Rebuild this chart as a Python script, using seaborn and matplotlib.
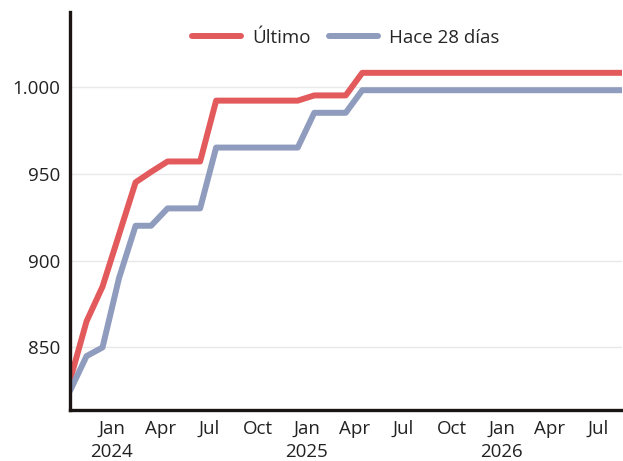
import matplotlib
matplotlib.use("Agg")
import matplotlib.pyplot as plt
from matplotlib.ticker import FuncFormatter
import seaborn as sns
import pandas as pd

dates = list(pd.date_range("2023-10-01", "2026-08-01", freq="MS") + pd.Timedelta(days=14))

ultimo = [831, 865, 885, 915, 945, 951, 957, 957, 957, 992, 992, 992, 992, 992, 992,
          995, 995, 995, 1008, 1008, 1008, 1008, 1008, 1008, 1008, 1008, 1008, 1008,
          1008, 1008, 1008, 1008, 1008, 1008, 1008]
hace28 = [825, 845, 850, 890, 920, 920, 930, 930, 930, 965, 965, 965, 965, 965, 965,
          985, 985, 985, 998, 998, 998, 998, 998, 998, 998, 998, 998, 998,
          998, 998, 998, 998, 998, 998, 998]
series_names = ["Último", "Hace 28 días"]
colors = ["#e35a5c", "#8f9cbd"]

tick_dates = ["2024-01-01", "2024-04-01", "2024-07-01", "2024-10-01",
              "2025-01-01", "2025-04-01", "2025-07-01", "2025-10-01",
              "2026-01-01", "2026-04-01", "2026-07-01"]
tick_labels = ["Jan\n2024", "Apr", "Jul", "Oct", "Jan\n2025", "Apr", "Jul", "Oct",
               "Jan\n2026", "Apr", "Jul"]
y_ticks = [850, 900, 950, 1000]

df = pd.DataFrame({
    "fecha": dates * 2,
    "valor": ultimo + hace28,
    "serie": [series_names[0]] * len(dates) + [series_names[1]] * len(dates),
})

sns.set_theme(style="white")
plt.rcParams["font.family"] = ["Open Sans", "DejaVu Sans"]

fig = plt.figure(figsize=(6.23, 4.61), dpi=100)
ax = fig.add_axes([70 / 623, 51 / 461, 552 / 623, 398 / 461])

sns.lineplot(data=df, x="fecha", y="valor", hue="serie", palette=colors,
             linewidth=4.3, ax=ax, legend=True)

ax.set_xlim(dates[0], dates[-1])
ax.set_ylim(814, 1043)
ax.set_yticks(y_ticks)
ax.yaxis.set_major_formatter(FuncFormatter(lambda v, p: f"{v:,.0f}".replace(",", ".")))
ax.set_xticks([pd.Timestamp(d) for d in tick_dates])
ax.set_xticklabels(tick_labels)
ax.set_xlabel("")
ax.set_ylabel("")
ax.tick_params(axis="both", length=0, labelsize=13.5, colors="#222222")
ax.tick_params(axis="y", pad=7)
ax.tick_params(axis="x", pad=7)
for lbl in ax.get_xticklabels():
    lbl.set_horizontalalignment("center")
    lbl.set_linespacing(1.35)

ax.grid(axis="y", color="#e8e8e8", linewidth=1)
ax.set_axisbelow(True)
for s in ["top", "right"]:
    ax.spines[s].set_visible(False)
for s in ["left", "bottom"]:
    ax.spines[s].set_color("#1a1512")
    ax.spines[s].set_linewidth(2.4)

leg = ax.legend(loc="upper center", bbox_to_anchor=(0.5, 1.0), ncol=2, frameon=False,
                fontsize=13.5, handlelength=2.6, columnspacing=1.0, handletextpad=0.6)
for line in leg.get_lines():
    line.set_linewidth(4.3)

fig.savefig("out.png", dpi=100)
